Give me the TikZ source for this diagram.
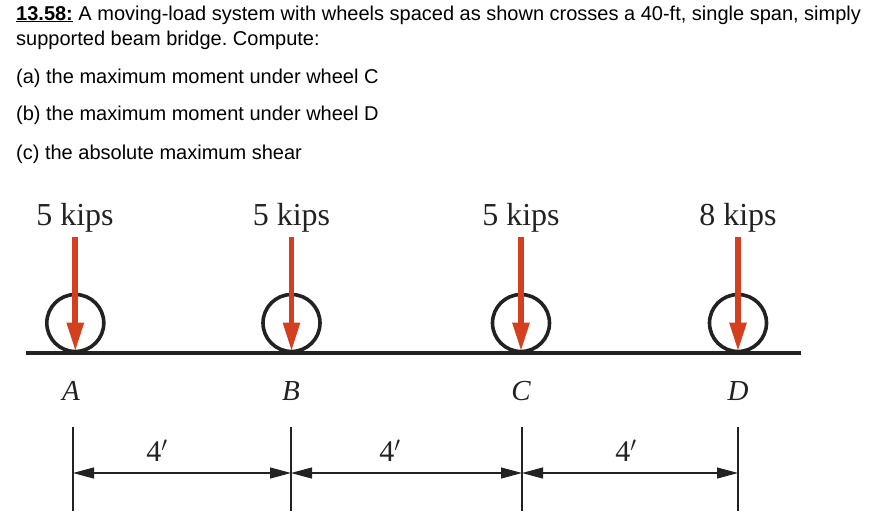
\documentclass[tikz,border=0pt]{standalone}
\usepackage{fontspec}
\setmainfont{Liberation Sans}
\newfontfamily\figfont{Liberation Serif}
\usetikzlibrary{arrows.meta}
\definecolor{loadred}{HTML}{D4401F}
\definecolor{inkdark}{HTML}{222222}
\frenchspacing
\tikzset{
  x=1pt,y=-1pt,
  prob/.style={anchor=base west,inner sep=0,font=\fontsize{20}{24}\selectfont,text=black},
  wheel/.style={circle,draw=inkdark,line width=3.6pt,minimum size=57pt,inner sep=0},
  loadlabel/.style={inner sep=0,font=\figfont\fontsize{32}{36}\selectfont,text=inkdark,anchor=base},
  pointlabel/.style={inner sep=0,font=\figfont\itshape\fontsize{29}{32}\selectfont,text=inkdark,anchor=base},
  dimlabel/.style={inner sep=0,font=\figfont\fontsize{30}{32}\selectfont,text=inkdark,anchor=base},
  load/.style={draw=loadred,line width=5.7pt,-{Triangle[length=29pt,width=16pt,fill=loadred]}},
  beam/.style={draw=inkdark,line width=3.6pt},
  extline/.style={draw=inkdark,line width=1.2pt},
  dimline/.style={draw=inkdark,line width=1.1pt,{Triangle[length=21pt,width=11pt]}-{Triangle[length=21pt,width=11pt]}},
}
\begin{document}
\begin{tikzpicture}
\useasboundingbox (0,0) rectangle (872,520);
\node[prob] (t1) at (16,20) {\textbf{\underline{13.58:}} A moving-load system with wheels spaced as shown crosses a 40-ft, single span, simply};
\node[prob] (t2) at (16,45) {supported beam bridge. Compute:};
\node[prob] (t3) at (16,83) {(a) the maximum moment under wheel C};
\node[prob] (t4) at (16,120) {(b) the maximum moment under wheel D};
\node[prob] (t5) at (16,159) {(c) the absolute maximum shear};
% beam
\coordinate (bl) at (26,352.7);
\coordinate (br) at (801,352.7);
% wheels
\node[wheel] (wa) at (75.3,323) {};
\node[wheel] (wb) at (291.5,323) {};
\node[wheel] (wc) at (521,323) {};
\node[wheel] (wd) at (738,323) {};
\draw[beam] (bl) -- (br);
% load labels
\node[loadlabel] (la) at (75,225) {5 kips};
\node[loadlabel] (lb) at (291.5,225) {5 kips};
\node[loadlabel] (lc) at (521,225) {5 kips};
\node[loadlabel] (ld) at (738,225) {8 kips};
% load arrows
\foreach \n/\xx in {a/75.3,b/291.5,c/521,d/738}{
  \coordinate (top\n) at (\xx,237);
  \coordinate (tip\n) at (\xx,351.5);
  \draw[load] (top\n) -- (tip\n);
}
% point labels
\node[pointlabel] (pa) at (71,400) {A};
\node[pointlabel] (pb) at (291,400) {B};
\node[pointlabel] (pc) at (521,400) {C};
\node[pointlabel] (pd) at (738,400) {D};
% dimension lines
\foreach \n/\xx in {a/73,b/291,c/522,d/738}{
  \coordinate (et\n) at (\xx,427);
  \coordinate (eb\n) at (\xx,511);
  \coordinate (em\n) at (\xx,473);
  \draw[extline] (et\n) -- (eb\n);
}
\draw[dimline] (ema) -- (emb);
\draw[dimline] (emb) -- (emc);
\draw[dimline] (emc) -- (emd);
\node[dimlabel] (da) at (157,461) {4$'$};
\node[dimlabel] (db) at (390,461) {4$'$};
\node[dimlabel] (dc) at (626,461) {4$'$};
\end{tikzpicture}
\end{document}
